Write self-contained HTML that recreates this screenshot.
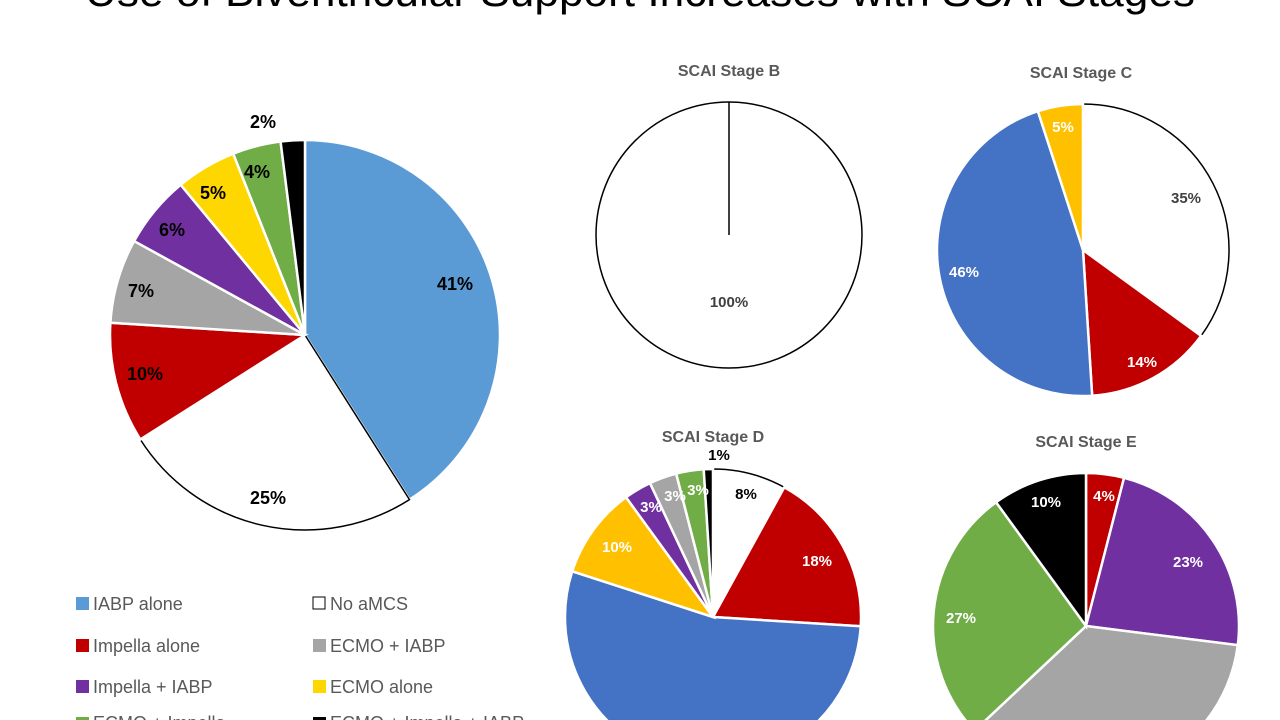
<!DOCTYPE html>
<html><head><meta charset="utf-8"><style>
html,body{margin:0;padding:0;background:#fff;width:1280px;height:720px;overflow:hidden}
svg{display:block}
.t{font-family:"Liberation Sans",sans-serif;font-weight:bold;font-size:16px;fill:#595959;text-anchor:middle}
.m{font-family:"Liberation Sans",sans-serif;font-weight:bold;font-size:18px;fill:#000;text-anchor:middle}
.s{font-family:"Liberation Sans",sans-serif;font-weight:bold;font-size:15px;text-anchor:middle}
.l{font-family:"Liberation Sans",sans-serif;font-size:18px;fill:#595959}
</style></head><body>
<svg id="svg" width="1280" height="720" viewBox="0 0 1280 720" xmlns="http://www.w3.org/2000/svg" style="overflow:hidden">
<text x="640" y="6" font-family="Liberation Sans,sans-serif" font-size="42" text-anchor="middle" fill="#000" textLength="1110" lengthAdjust="spacingAndGlyphs">Use of Biventricular Support Increases with SCAI Stages</text>
<g id="pies"></g>
<circle cx="729" cy="235" r="133" fill="#fff" stroke="#000" stroke-width="1.5"/>
<line x1="729" y1="235" x2="729" y2="102" stroke="#000" stroke-width="1.5"/>
<text class="t" x="729" y="76">SCAI Stage B</text>
<text class="t" x="1081" y="78">SCAI Stage C</text>
<text class="t" x="713" y="442">SCAI Stage D</text>
<text class="t" x="1086" y="447">SCAI Stage E</text>
<g id="labels">
<text class="m" x="455" y="290">41%</text>
<text class="m" x="268" y="504">25%</text>
<text class="m" x="145" y="380">10%</text>
<text class="m" x="141" y="297">7%</text>
<text class="m" x="172" y="236">6%</text>
<text class="m" x="213" y="199">5%</text>
<text class="m" x="257" y="178">4%</text>
<text class="m" x="263" y="128">2%</text>
<text class="s" x="729" y="307" fill="#404040" font-weight="normal">100%</text>
<text class="s" x="1186" y="203" fill="#404040">35%</text>
<text class="s" x="1142" y="367" fill="#fff">14%</text>
<text class="s" x="964" y="277" fill="#fff">46%</text>
<text class="s" x="1063" y="132" fill="#fff">5%</text>
<text class="s" x="746" y="499" fill="#000">8%</text>
<text class="s" x="817" y="566" fill="#fff">18%</text>
<text class="s" x="617" y="552" fill="#fff">10%</text>
<text class="s" x="651" y="512" fill="#fff">3%</text>
<text class="s" x="675" y="501" fill="#fff">3%</text>
<text class="s" x="698" y="495" fill="#fff">3%</text>
<text class="s" x="719" y="460" fill="#000">1%</text>
<text class="s" x="1104" y="501" fill="#fff">4%</text>
<text class="s" x="1188" y="567" fill="#fff">23%</text>
<text class="s" x="961" y="623" fill="#fff">27%</text>
<text class="s" x="1046" y="507" fill="#fff">10%</text>
</g>
<g>
<rect x="76" y="597" width="13" height="13" fill="#5B9BD5"/><text class="l" x="93" y="610">IABP alone</text>
<rect x="313" y="597" width="12" height="12" fill="#fff" stroke="#000"/><text class="l" x="330" y="610">No aMCS</text>
<rect x="76" y="639" width="13" height="13" fill="#C00000"/><text class="l" x="93" y="652">Impella alone</text>
<rect x="313" y="639" width="13" height="13" fill="#A5A5A5"/><text class="l" x="330" y="652">ECMO + IABP</text>
<rect x="76" y="680" width="13" height="13" fill="#7030A0"/><text class="l" x="93" y="693">Impella + IABP</text>
<rect x="313" y="680" width="13" height="13" fill="#FFD700"/><text class="l" x="330" y="693">ECMO alone</text>
<rect x="76" y="717" width="13" height="13" fill="#70AD47"/><text class="l" x="93" y="729">ECMO + Impella</text>
<rect x="313" y="717" width="13" height="13" fill="#000"/><text class="l" x="330" y="729">ECMO + Impella + IABP</text>
</g>
</svg>
<script>
var g=document.getElementById('pies'),ns='http://www.w3.org/2000/svg';
function pie(cx,cy,r,data,sw){var a=0;data.forEach(function(d){var a0=a*3.6*Math.PI/180;a+=d[0];var a1=a*3.6*Math.PI/180;
var x0=cx+r*Math.sin(a0),y0=cy-r*Math.cos(a0),x1=cx+r*Math.sin(a1),y1=cy-r*Math.cos(a1);
var p=document.createElementNS(ns,'path');p.setAttribute('d','M'+cx+','+cy+'L'+x0+','+y0+'A'+r+','+r+' 0 '+(d[0]>50?1:0)+' 1 '+x1+','+y1+'Z');
p.setAttribute('fill',d[1]);p.setAttribute('stroke',d[1]=='#fff'?'#000':'#fff');p.setAttribute('stroke-width',d[1]=='#fff'?1.5:sw);g.appendChild(p);});}
pie(305,335,195,[[41,'#5B9BD5'],[25,'#fff'],[10,'#C00000'],[7,'#A5A5A5'],[6,'#7030A0'],[5,'#FFD700'],[4,'#70AD47'],[2,'#000']],2.5);
pie(1083,250,146,[[35,'#fff'],[14,'#C00000'],[46,'#4472C4'],[5,'#FFC000']],2.5);
pie(713,617,148,[[8,'#fff'],[18,'#C00000'],[54,'#4472C4'],[10,'#FFC000'],[3,'#7030A0'],[3,'#A5A5A5'],[3,'#70AD47'],[1,'#000']],2.5);
pie(1086,626,153,[[4,'#C00000'],[23,'#7030A0'],[36,'#A5A5A5'],[27,'#70AD47'],[10,'#000']],2.5);
</script>
</body></html>
